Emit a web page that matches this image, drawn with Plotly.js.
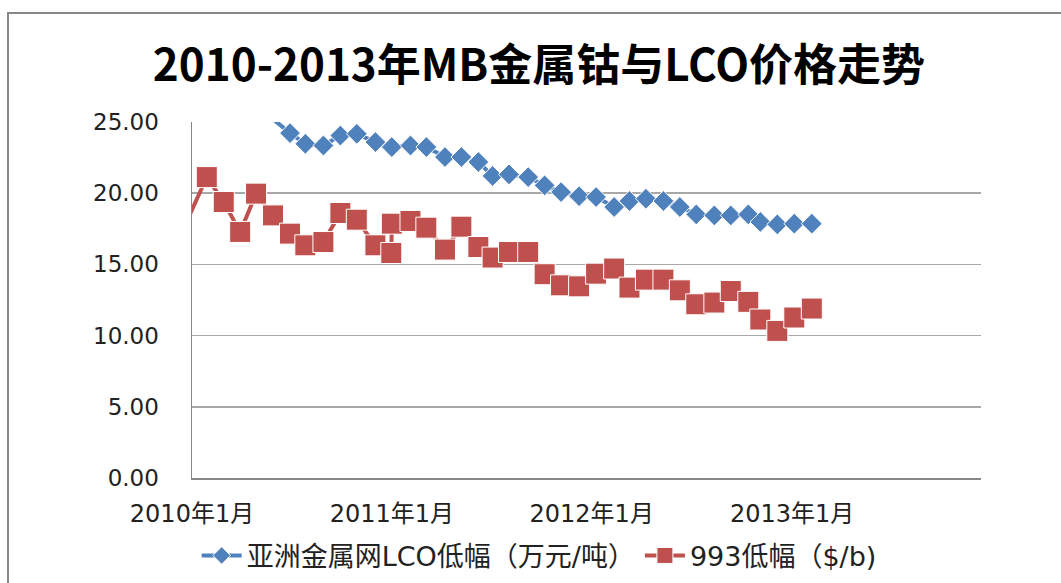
<!DOCTYPE html>
<html>
<head>
<meta charset="utf-8">
<script src="https://cdn.plot.ly/plotly-3.0.1.min.js"></script>
<style>
  html, body { margin: 0; padding: 0; background: #ffffff; overflow: hidden; }
  #chart { width: 1061px; height: 583px; position: relative; }
  #frame { position: absolute; left: 7px; top: 12px; width: 1100px; height: 620px;
           border: 2px solid #878787; pointer-events: none; box-sizing: border-box; }
</style>
</head>
<body>
<div id="chart"></div>
<div id="frame"></div>
<script>
// ---- data ----
const titleText = '2010-2013年MB金属钴与LCO价格走势';
const seriesNames = ['亚洲金属网LCO低幅（万元/吨）', '993低幅（$/b)'];

const dates = [
  '2009-12-28', '2010-01-28', '2010-02-28', '2010-03-30', '2010-04-28', '2010-05-29',
  '2010-06-29', '2010-07-27', '2010-08-29', '2010-09-29', '2010-10-29', '2010-12-02',
  '2010-12-31', '2011-01-01', '2011-02-04', '2011-03-05', '2011-04-08', '2011-05-08',
  '2011-06-08', '2011-07-04', '2011-08-03', '2011-09-07', '2011-10-07', '2011-11-06',
  '2011-12-09', '2012-01-09', '2012-02-11', '2012-03-10', '2012-04-09', '2012-05-11',
  '2012-06-10', '2012-07-10', '2012-08-12', '2012-09-11', '2012-10-13', '2012-11-04',
  '2012-12-05', '2013-01-05', '2013-02-06'
];

const lcoPrice = [
  null, null, null, null, null, 25.20,
  24.22, 23.47, 23.35, 24.05, 24.17, 23.59,
  23.24, 23.24, 23.35, 23.24, 22.54, 22.54,
  22.19, 21.21, 21.32, 21.13, 20.55, 20.08,
  19.79, 19.73, 19.03, 19.45, 19.61, 19.45,
  19.03, 18.51, 18.44, 18.44, 18.51, 17.98,
  17.81, 17.86, 17.86
];

const cobalt993 = [
  18.50, 21.13, 19.38, 17.28, 19.97, 18.44,
  17.16, 16.34, 16.57, 18.61, 18.14, 16.34,
  15.80, 17.86, 18.05, 17.58, 16.04, 17.65,
  16.22, 15.48, 15.87, 15.87, 14.31, 13.53,
  13.46, 14.35, 14.71, 13.37, 13.93, 13.93,
  13.18, 12.20, 12.32, 13.13, 12.37, 11.13,
  10.33, 11.27, 11.90
];

const xTickVals = ['2010-01-01', '2011-01-01', '2012-01-01', '2013-01-01'];
const xTickText = ['2010年1月', '2011年1月', '2012年1月', '2013年1月'];
const yTickVals = [0, 5, 10, 15, 20, 25];

// ---- chart ----
const xRange = ['2010-01-01', '2013-12-12'];
const yRange = [0, 25];
const inRange = (d, v) => v !== null && d >= xRange[0] && v <= yRange[1];

const FONT = '"Noto Sans CJK SC", "Noto Sans", sans-serif';
const LFONT = '"DejaVu Sans", "Noto Sans CJK SC", sans-serif';

const traces = [
  {
    x: dates, y: lcoPrice, name: seriesNames[0], type: 'scatter', mode: 'lines+markers',
    line: { color: '#4F81BD', width: 4 },
    marker: { symbol: 'diamond', color: '#4F81BD', opacity: 1,
              size: dates.map((d, i) => inRange(d, lcoPrice[i]) ? 16 : 0) },
    cliponaxis: true
  },
  {
    x: dates, y: cobalt993, name: seriesNames[1], type: 'scatter', mode: 'lines+markers',
    line: { color: '#C0504D', width: 4 },
    marker: { symbol: 'square', color: '#C0504D', opacity: 1,
              size: dates.map((d, i) => inRange(d, cobalt993[i]) ? 21 : 0) },
    cliponaxis: true
  }
];

const layout = {
  width: 1061, height: 583,
  margin: { l: 192, r: 80, t: 122, b: 105, autoexpand: false },
  paper_bgcolor: 'rgba(0,0,0,0)', plot_bgcolor: '#ffffff',
  font: { family: LFONT, color: '#222222', size: 22 },
  title: {
    text: titleText, x: 0.508, xanchor: 'center', y: 0.888, yanchor: 'middle',
    font: { family: FONT, size: 44, color: '#000000', weight: 'bold' }
  },
  xaxis: {
    type: 'date', range: xRange, tickmode: 'array',
    tickvals: xTickVals, ticktext: xTickText,
    showgrid: false, zeroline: false, automargin: false,
    showline: true, linecolor: '#878787', linewidth: 1.5,
    ticks: 'outside', ticklen: 14, tickcolor: 'rgba(0,0,0,0)',
    tickfont: { family: LFONT, size: 24, color: '#222222' }
  },
  yaxis: {
    range: yRange, tickmode: 'array', tickvals: yTickVals, tickformat: '.2f',
    showgrid: true, gridcolor: '#A8A8A8', gridwidth: 1.5, automargin: false,
    zeroline: false, showline: true, linecolor: '#878787', linewidth: 1.5,
    ticks: 'outside', ticklen: 27, tickcolor: 'rgba(0,0,0,0)',
    tickfont: { family: LFONT, size: 23, color: '#222222' }
  },
  showlegend: true,
  legend: {
    orientation: 'h', x: 0.44, xanchor: 'center', y: -0.15, yanchor: 'top',
    font: { family: LFONT, size: 27, color: '#222222' },
    bgcolor: 'rgba(0,0,0,0)', itemwidth: 40, tracegroupgap: 0
  }
};

Plotly.newPlot('chart', traces, layout, { displayModeBar: false, staticPlot: true });
</script>
</body>
</html>
